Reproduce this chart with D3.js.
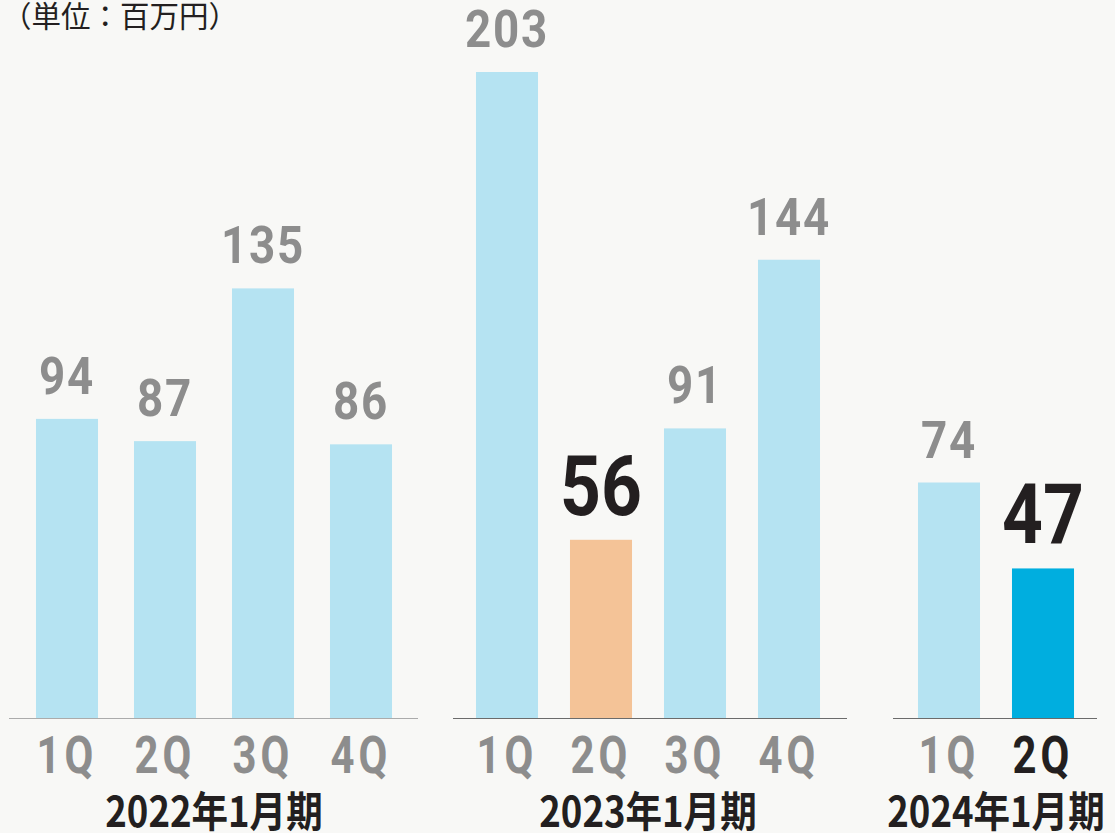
<!DOCTYPE html>
<html lang="ja">
<head>
<meta charset="utf-8">
<script src="https://d3js.org/d3.v7.min.js"></script>
<style>
  html, body { margin: 0; padding: 0; background: #f8f8f6; }
  svg { display: block; }
  .num { font-family: "Roboto", sans-serif; font-weight: 700; }
  .cjk { font-family: "Noto Sans CJK JP", sans-serif; font-weight: 700; }
</style>
</head>
<body>
<svg id="chart" width="1115" height="833"></svg>
<script>
// data
var periods = ["2022年1月期", "2023年1月期", "2024年1月期"];
var quarters2022 = ["1Q", "2Q", "3Q", "4Q"];
var values2022 = [94, 87, 135, 86];
var quarters2023 = ["1Q", "2Q", "3Q", "4Q"];
var values2023 = [203, 56, 91, 144];
var quarters2024 = ["1Q", "2Q"];
var values2024 = [74, 47];
var unitLabel = "（単位：百万円）";

var svg = d3.select("#chart");
var baseY = 718;

var y = d3.scaleLinear()
    .domain([0, 203])
    .range([baseY, 72]);

var groups = [
  {period: periods[0], q: quarters2022, v: values2022, range: [18, 410], pad: 0.367, line: [9, 418], lineColor: "#ababab", hi: -1},
  {period: periods[1], q: quarters2023, v: values2023, range: [460, 836], pad: 0.34, line: [453, 847], lineColor: "#6b6b6b", hi: 1, hiColor: "#f4c397"},
  {period: periods[2], q: quarters2024, v: values2024, range: [902, 1090], pad: 0.34, line: [893, 1097], lineColor: "#6b6b6b", hi: 1, hiColor: "#00aedf", hiTick: true}
];

var grey = "#8d8d8d";
var dark = "#231f20";

function squeeze(cx, cy, s) {
  return "translate(" + cx + "," + cy + ") scale(" + s + ",1)";
}

groups.forEach(function(g) {
  var x = d3.scaleBand()
      .domain(g.q)
      .range(g.range)
      .paddingInner(g.pad)
      .paddingOuter(g.pad / 2);

  var rows = g.q.map(function(q, i) { return {q: q, v: g.v[i], hi: i === g.hi}; });
  var gg = svg.append("g");

  gg.selectAll("rect")
    .data(rows)
    .enter()
    .append("rect")
    .attr("x", function(d) { return x(d.q); })
    .attr("y", function(d) { return y(d.v); })
    .attr("width", x.bandwidth())
    .attr("height", function(d) { return baseY - y(d.v); })
    .attr("fill", function(d) { return d.hi ? g.hiColor : "#b5e3f2"; });

  gg.append("line")
    .attr("x1", g.line[0]).attr("x2", g.line[1])
    .attr("y1", baseY + 0.5).attr("y2", baseY + 0.5)
    .attr("stroke", g.lineColor)
    .attr("stroke-width", 1.2);

  // value labels
  gg.selectAll("text.val")
    .data(rows)
    .enter()
    .append("text")
    .attr("class", "val num")
    .attr("transform", function(d) {
      return squeeze(x(d.q) + x.bandwidth() / 2, y(d.v) - 25, d.hi ? 0.86 : 0.88);
    })
    .attr("text-anchor", "middle")
    .style("font-size", function(d) { return d.hi ? "83px" : "52px"; })
    .style("letter-spacing", function(d) { return d.hi ? "0px" : "2px"; })
    .attr("fill", function(d) { return d.hi ? dark : grey; })
    .text(function(d) { return d.v; });

  // quarter labels
  gg.selectAll("text.q")
    .data(rows)
    .enter()
    .append("text")
    .attr("class", "q num")
    .attr("transform", function(d) {
      return squeeze(x(d.q) + x.bandwidth() / 2, 773, 0.82);
    })
    .attr("text-anchor", "middle")
    .style("font-size", "51px")
    .style("letter-spacing", "5px")
    .attr("fill", function(d) { return (d.hi && g.hiTick) ? dark : grey; })
    .text(function(d) { return d.q; });

  // period label
  gg.append("text")
    .attr("class", "cjk")
    .attr("transform", squeeze((g.range[0] + g.range[1]) / 2, 827, 0.87))
    .attr("text-anchor", "middle")
    .style("font-size", "42px")
    .attr("fill", dark)
    .text(g.period);
});

svg.append("text")
  .attr("x", 2)
  .attr("y", 27)
  .style("font-family", "'Noto Sans CJK JP', sans-serif")
  .style("font-size", "29.5px")
  .attr("fill", dark)
  .text(unitLabel);
</script>
</body>
</html>
